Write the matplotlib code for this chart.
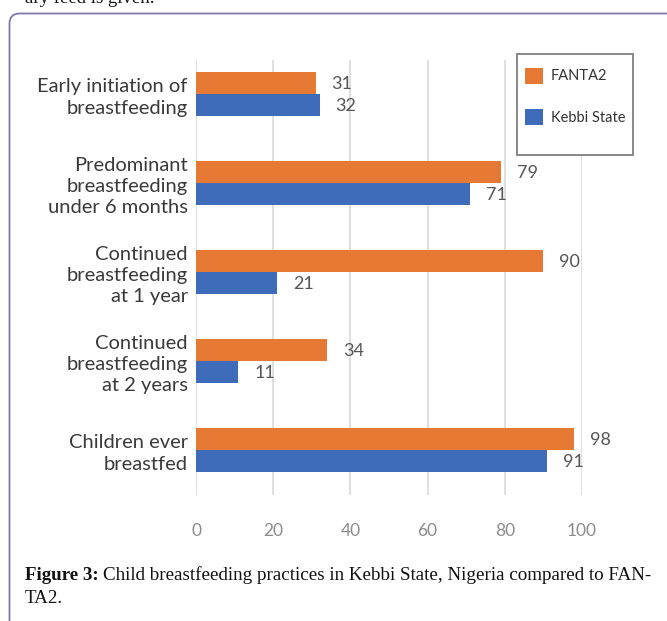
import matplotlib
matplotlib.use("Agg")
import matplotlib.pyplot as plt
from matplotlib.patches import FancyBboxPatch, Rectangle, Patch
from matplotlib.transforms import IdentityTransform

categorias = ["Early initiation of\nbreastfeeding",
              "Predominant\nbreastfeeding\nunder 6 months",
              "Continued\nbreastfeeding\nat 1 year",
              "Continued\nbreastfeeding\nat 2 years",
              "Children ever\nbreastfed"]
fanta2 = [31, 79, 90, 34, 98]
kebbi = [32, 71, 21, 11, 91]
ticks_x = [0, 20, 40, 60, 80, 100]

naranja = "#E67A35"
azul = "#3F6CBA"
fuente = "Lato"
serif = "Liberation Serif"

fig = plt.figure(figsize=(6.67, 6.21), dpi=100)
W, H = 667, 621

# marco redondeado (pixeles)
marco = FancyBboxPatch((9.5, -40), 700, H - 13.5 + 40,
                       boxstyle="round,pad=0,rounding_size=10",
                       transform=IdentityTransform(), fill=False,
                       edgecolor="#7D78AD", linewidth=1.3, clip_on=False)
fig.patches.append(marco)

# texto cortado arriba (como en la imagen original)
fig.text(25 / W, 1 - 3 / H, "ary feed is given.", family=serif, fontsize=13.5,
         va="baseline", ha="left", color="#111111")

ax = fig.add_axes([196 / W, 1 - 495 / H, 386 / W, 435 / H])
y = list(range(len(categorias)))
alto = 0.25
ax.barh([v - alto / 2 for v in y], fanta2, height=alto, color=naranja, label="FANTA2", zorder=3)
ax.barh([v + alto / 2 for v in y], kebbi, height=alto, color=azul, label="Kebbi State", zorder=3)

for i in y:
    ax.annotate(str(fanta2[i]), (fanta2[i], i - alto / 2), xytext=(16, -1), textcoords="offset pixels",
                va="center", ha="left", fontsize=13, color="#555555", family=fuente)
    ax.annotate(str(kebbi[i]), (kebbi[i], i + alto / 2), xytext=(16, -1), textcoords="offset pixels",
                va="center", ha="left", fontsize=13, color="#555555", family=fuente)

ax.set_xlim(0, 100)
ax.set_ylim(4.506, -0.382)
ax.set_xticks(ticks_x)
ax.set_xticklabels([str(t) for t in ticks_x], family=fuente, fontsize=12.5, color="#8C8C8C")
ax.set_yticks(y)
ax.set_yticklabels(categorias, family=fuente, fontsize=14.5, color="#3A3A3A", ha="right",
                   multialignment="right", linespacing=1.3)
ax.tick_params(axis="both", length=0)
ax.tick_params(axis="x", pad=20)
ax.tick_params(axis="y", pad=6)
for s in ax.spines.values():
    s.set_visible(False)
ax.grid(axis="x", color="#D9D9D9", linewidth=1.2, zorder=0)

# leyenda
caja = Rectangle((517, H - 155), 116, 101, transform=IdentityTransform(), fill=True,
                 facecolor="white", edgecolor="#7F7F7F", linewidth=1.3, zorder=5)
fig.patches.append(caja)
manejos = [Patch(facecolor=naranja), Patch(facecolor=azul)]
leg = fig.legend(manejos, ["FANTA2", "Kebbi State"], loc="upper left",
                 bbox_to_anchor=(513 / W, 1 - 56 / H), frameon=False,
                 prop={"family": fuente, "size": 10.5}, handlelength=1.25, handleheight=1.3,
                 labelspacing=1.75, handletextpad=0.55, borderpad=0.3)
leg.set_zorder(6)
for t in leg.get_texts():
    t.set_color("#333333")

# pie de figura
r = fig.canvas.get_renderer()
t1 = fig.text(25 / W, 1 - 580 / H, "Figure 3:", family=serif, fontsize=13.7, weight="bold",
              va="baseline", ha="left", color="#111111")
bb = t1.get_window_extent(renderer=r)
fig.text((bb.x1 + 4) / W, 1 - 580 / H,
         "Child breastfeeding practices in Kebbi State, Nigeria compared to FAN-",
         family=serif, fontsize=13.7, va="baseline", ha="left", color="#111111")
fig.text(25 / W, 1 - 603 / H, "TA2.", family=serif, fontsize=13.7,
         va="baseline", ha="left", color="#111111")

fig.savefig("out.png", dpi=100)
